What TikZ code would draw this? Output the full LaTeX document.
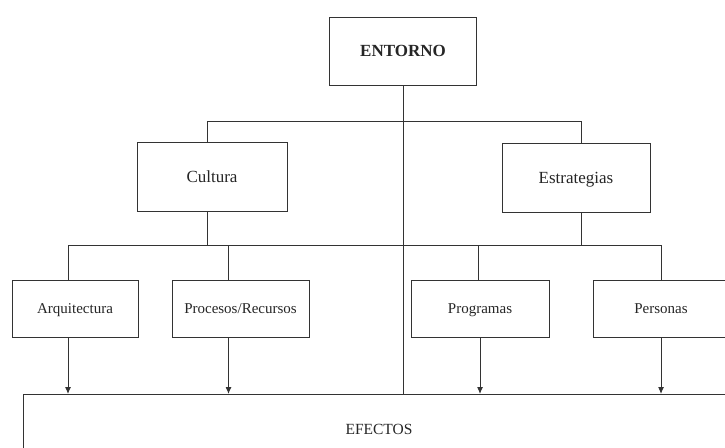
\documentclass[tikz,border=0pt]{standalone}
\usepackage{fontspec}
\setmainfont{Liberation Serif}
\usetikzlibrary{arrows.meta}
\begin{document}
\begin{tikzpicture}[x=1pt,y=-1pt]
\tikzset{edge/.style = {-{Latex[length=7pt,width=6pt]}, line width=1pt, black!80}}
\tikzset{link/.style = {line width=1pt, black!80}}
\tikzset{box/.style = {shape=rectangle, draw=black!80, line width=1pt, inner sep=0pt, text=black!85, text height=11pt, text depth=0.5pt}}
\tikzset{big/.style = {font=\fontsize{17}{20}\selectfont, text height=12pt}}
\tikzset{small/.style = {font=\fontsize{15}{18}\selectfont, minimum height=57pt}}
\clip (0,0) rectangle (725,447);
\fill[white] (0,0) rectangle (725,447);
\node[box, big, minimum width=147pt, minimum height=68pt, font=\fontsize{17}{20}\selectfont\bfseries](entorno) at (403,51) {ENTORNO};
\node[box, big, minimum width=150pt, minimum height=69pt](cultura) at (212,176.5) {Cultura};
\node[box, big, minimum width=148pt, minimum height=69pt](estrategias) at (576,177.5) {Estrategias};
\node[box, small, minimum width=126pt](arquitectura) at (75,308.5) {Arquitectura};
\node[box, small, minimum width=137pt](procesos) at (240.5,308.5) {Procesos/Recursos};
\node[box, small, minimum width=138pt](programas) at (480,308.5) {Programas};
\node[box, small, minimum width=136pt](personas) at (661,308.5) {Personas};
\node[box, minimum width=712pt, minimum height=70pt, font=\fontsize{15.5}{18}\selectfont](efectos) at (379,429.5) {EFECTOS};
\coordinate (bus1) at (0,121);
\coordinate (bus2) at (0,245);
% entorno straight down
\draw[link] (entorno.south) -- (entorno.south |- efectos.north);
\draw[link] ([xshift=-5pt]cultura.north) -- ([xshift=-5pt]cultura.north |- bus1) -| ([xshift=5pt]estrategias.north);
% second level
\draw[link] ([xshift=-7pt]arquitectura.north) -- ([xshift=-7pt]arquitectura.north |- bus2) -| (personas.north);
\draw[link] ([xshift=-5pt]cultura.south) -- ([xshift=-5pt]cultura.south |- bus2);
\draw[link] ([xshift=5pt]estrategias.south) -- ([xshift=5pt]estrategias.south |- bus2);
\draw[link] ([xshift=-12pt]procesos.north) -- ([xshift=-12pt]procesos.north |- bus2);
\draw[link] ([xshift=-2pt]programas.north) -- ([xshift=-2pt]programas.north |- bus2);
% effects
\draw[edge] ([xshift=-7pt]arquitectura.south) -- ([xshift=-7pt]arquitectura.south |- efectos.north);
\draw[edge] ([xshift=-12pt]procesos.south) -- ([xshift=-12pt]procesos.south |- efectos.north);
\draw[edge] (programas.south) -- (programas.south |- efectos.north);
\draw[edge] (personas.south) -- (personas.south |- efectos.north);
\end{tikzpicture}
\end{document}
